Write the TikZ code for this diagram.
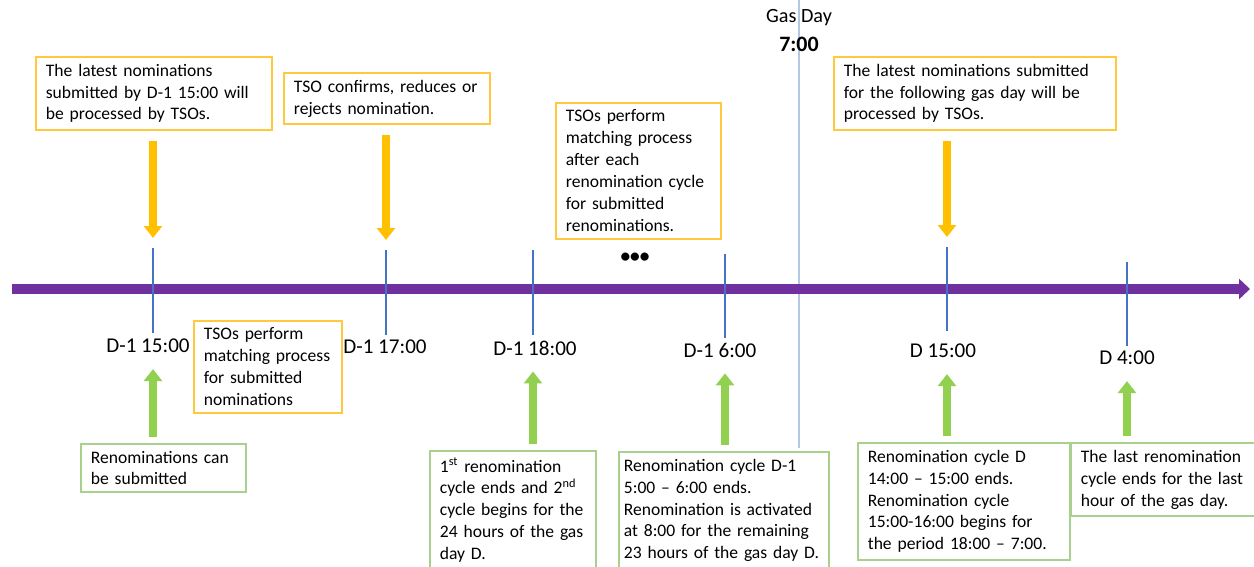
\documentclass[tikz,border=0pt]{standalone}
\usepackage{fontspec}
\setmainfont{Carlito}
\usetikzlibrary{arrows.meta,positioning}
\definecolor{tlpurple}{HTML}{7030A0}
\definecolor{tickblue}{HTML}{4472C4}
\definecolor{gdblue}{HTML}{B4C7E7}
\definecolor{arryellow}{HTML}{FFC000}
\definecolor{boxyellow}{HTML}{FFC83D}
\definecolor{arrgreen}{HTML}{92D050}
\definecolor{boxgreen}{HTML}{A9D18E}
\tikzset{
  ybox/.style={draw=boxyellow,line width=1pt,fill=white,align=left,anchor=north west,
    inner xsep=0.2cm,inner ysep=0.14cm,font=\fontsize{10}{12.5}\selectfont},
  gbox/.style={ybox,draw=boxgreen},
  lab/.style={font=\fontsize{12}{14}\selectfont},
  tick/.style={draw=tickblue,line width=1.4pt},
  yarrow/.style={draw=arryellow,line width=0.16cm,-{Triangle[width=0.36cm,length=0.24cm]},
    shorten <=0.2cm,shorten >=0.2cm},
  garrow/.style={yarrow,draw=arrgreen,shorten <=0.12cm}
}
\begin{document}
\begin{tikzpicture}[x=0.02cm,y=-0.02cm]
\useasboundingbox (0,0) rectangle (1254,567);
\clip (0,0) rectangle (1254,567);
% gas day boundary
\coordinate (gd top) at (799,0);
\coordinate (gd bot) at (799,448);
\draw[gdblue,line width=1.2pt] (gd top) -- (gd bot);
\node[font=\fontsize{11.5}{13}\selectfont] (gd) at (799,18) {Gas Day};
\node[font=\fontsize{12.5}{14}\selectfont\bfseries] (gd time) at (799,44) {7:00};
% time line
\coordinate (tl a) at (12,289);
\coordinate (tl b) at (1250,289);
\draw[tlpurple,line width=0.2cm,-{Triangle[width=0.4cm,length=0.22cm]}] (tl a) -- (tl b);
% ticks
\coordinate (t1) at (153,248); \coordinate (t1b) at (153,333);
\coordinate (t2) at (386,250); \coordinate (t2b) at (386,335);
\coordinate (t3) at (533,250); \coordinate (t3b) at (533,335);
\coordinate (t4) at (725,254); \coordinate (t4b) at (725,338);
\coordinate (t5) at (947,247); \coordinate (t5b) at (947,331);
\coordinate (t6) at (1127,262); \coordinate (t6b) at (1127,346);
\draw[tick] (t1) -- (t1b);
\draw[tick] (t2) -- (t2b);
\draw[tick] (t3) -- (t3b);
\draw[tick] (t4) -- (t4b);
\draw[tick] (t5) -- (t5b);
\draw[tick] (t6) -- (t6b);
\node[lab] (l1) at (148,346) {D-1 15:00};
\node[lab] (l2) at (385,347) {D-1 17:00};
\node[lab] (l3) at (535,348) {D-1 18:00};
\node[lab] (l4) at (720,350) {D-1 6:00};
\node[lab] (l5) at (943,351) {D 15:00};
\node[lab] (l6) at (1127,358) {D 4:00};
\node[font=\fontsize{11}{12}\selectfont\bfseries] (dots) at (635,258) {•••};
% TSO boxes
\node[ybox,text width=4.32cm] (n1) at (35,56) {The latest nominations\\submitted by D-1 15:00 will\\be processed by TSOs.};
\node[ybox,text width=3.72cm] (n2) at (283,72) {TSO confirms, reduces or\\rejects nomination.};
\node[ybox,text width=2.9cm] (n3) at (555,102) {TSOs perform\\matching process\\after each\\renomination cycle\\for submitted\\renominations.};
\node[ybox,text width=5.24cm] (n4) at (833,56) {The latest nominations submitted\\for the following gas day will be\\processed by TSOs.};
\node[ybox,text width=2.56cm] (n5) at (193,320) {TSOs perform\\matching process\\for submitted\\nominations};
% renomination boxes
\node[gbox,text width=2.9cm] (g1) at (80,443) {Renominations can\\be submitted};
\node[gbox,text width=2.92cm] (g2) at (429,450) {1\textsuperscript{st} renomination\\cycle ends and 2\textsuperscript{nd}\\cycle begins for the\\24 hours of the gas\\day D.};
\node[gbox,text width=4.0cm,inner xsep=0.1cm] (g3) at (618,451) {Renomination cycle D-1\\5:00 – 6:00 ends.\\Renomination is activated\\at 8:00 for the remaining\\23 hours of the gas day D.};
\node[gbox,text width=3.84cm] (g4) at (857,442) {Renomination cycle D\\14:00 – 15:00 ends.\\Renomination cycle\\15:00-16:00 begins for\\the period 18:00 – 7:00.};
\node[gbox,text width=3.28cm] (g5) at (1070,442) {The last renomination\\cycle ends for the last\\hour of the gas day.};
% arrows
\draw[yarrow] (n1.south -| t1) -- (t1);
\draw[yarrow] (n2.south -| t2) -- (t2);
\draw[yarrow] (n4.south -| t5) -- (t5);
\draw[garrow] (g1.north -| t1) -- (l1.south -| t1);
\draw[garrow] (g2.north -| t3) -- (l3.south -| t3);
\draw[garrow] (g3.north -| t4) -- (l4.south -| t4);
\draw[garrow] (g4.north -| t5) -- (l5.south -| t5);
\draw[garrow] (g5.north -| t6) -- (l6.south -| t6);
\end{tikzpicture}
\end{document}
